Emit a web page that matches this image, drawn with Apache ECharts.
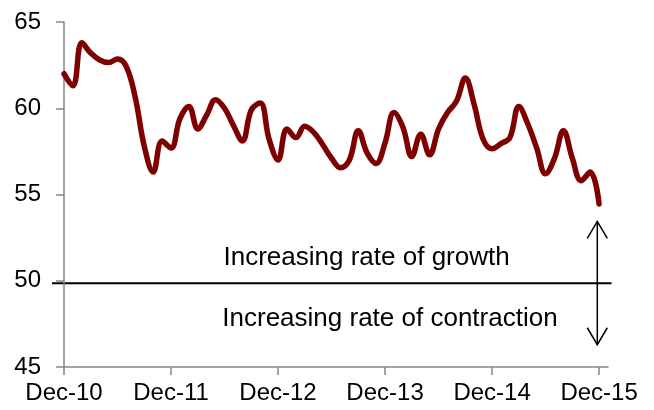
<!DOCTYPE html>
<html>
<head>
<meta charset="utf-8">
<script src="https://cdn.jsdelivr.net/npm/echarts@6/dist/echarts.min.js"></script>
<style>
html, body { margin: 0; padding: 0; background: #fff; }
#main { width: 654px; height: 410px; }
</style>
</head>
<body>
<div id="main"></div>
<script>
// monthly index, Dec-10 .. Dec-15
const monthNames = ['Jan', 'Feb', 'Mar', 'Apr', 'May', 'Jun', 'Jul', 'Aug', 'Sep', 'Oct', 'Nov', 'Dec']
const values = [
  62.0, 61.3, 63.8, 63.2, 62.8, 62.65, 62.85, 62.4, 60.6, 57.8,
  56.3, 58.1, 57.7, 59.4, 60.1, 58.8, 59.6, 60.5, 60.0, 59.0,
  58.1, 59.9, 60.3, 58.2, 57.0, 58.8, 58.3, 58.95, 58.6, 57.9,
  57.1, 56.55, 57.0, 58.7, 57.4, 56.8, 58.0, 59.75, 58.9, 57.2,
  58.5, 57.3, 58.8, 59.75, 60.4, 61.75, 60.2, 58.2, 57.65, 57.95,
  58.3, 60.1, 59.1, 57.7, 56.2, 57.1, 58.7, 57.1, 55.8, 56.3,
  54.45
]
const yMin = 45
const yMax = 65
const yStep = 5
const threshold = 49.85
const growthLabel = 'Increasing rate of growth'
const contractionLabel = 'Increasing rate of contraction'

// axis runs one month past the last point (to Jan-16)
const months = []
for (let k = 0; k < values.length + 1; k++) {
  const m = (11 + k) % 12
  const y = 10 + Math.floor((11 + k) / 12)
  months.push(monthNames[m] + '-' + y)
}

const font = '"Liberation Sans", Arial, sans-serif'
const axisGrey = '#868686'

let mychart = echarts.init(document.getElementById('main'))
mychart.setOption({
  animation: false,
  grid: { left: 64, right: 46, top: 22, bottom: 43 },
  xAxis: {
    type: 'category',
    data: months,
    boundaryGap: false,
    axisLine: { lineStyle: { color: axisGrey, width: 1.5 } },
    axisTick: { interval: 11, length: 8, lineStyle: { color: axisGrey, width: 1.5 } },
    axisLabel: { interval: 11, color: '#000', fontSize: 24, fontFamily: font, margin: 14 },
    splitLine: { show: false }
  },
  yAxis: {
    type: 'value',
    min: yMin,
    max: yMax,
    interval: yStep,
    axisLine: { show: true, lineStyle: { color: axisGrey, width: 1.5 } },
    axisTick: { show: true, length: 8, lineStyle: { color: axisGrey, width: 1.5 } },
    axisLabel: { color: '#000', fontSize: 24, fontFamily: font, margin: 23 },
    splitLine: { show: false }
  },
  series: [{
    type: 'line',
    data: values,
    smooth: 0.4,
    symbol: 'none',
    lineStyle: { color: '#7f0000', width: 5.5, cap: 'round', join: 'round' }
  }]
})

// annotation: threshold line, two captions and the double arrow
const x0 = mychart.convertToPixel({ xAxisIndex: 0 }, 0)
const x1 = mychart.convertToPixel({ xAxisIndex: 0 }, values.length)
const toX = u => x0 + (x1 - x0) * u / values.length
const toY = v => mychart.convertToPixel({ yAxisIndex: 0 }, v)

const ax = toX(59.8)
const aTop = toY(53.44)
const aBot = toY(46.29)
const head = 17, spread = 10

mychart.setOption({
  graphic: [
    {
      type: 'line',
      shape: { x1: toX(-1.35), y1: toY(threshold), x2: toX(61.4), y2: toY(threshold) },
      style: { stroke: '#000', lineWidth: 2 }
    },
    {
      type: 'text',
      x: toX(33.93), y: toY(51.3),
      style: { text: growthLabel, fill: '#000', font: '26px ' + font, textAlign: 'center', textVerticalAlign: 'middle' }
    },
    {
      type: 'text',
      x: toX(36.55), y: toY(47.8),
      style: { text: contractionLabel, fill: '#000', font: '26px ' + font, textAlign: 'center', textVerticalAlign: 'middle' }
    },
    {
      type: 'line',
      shape: { x1: ax, y1: aTop, x2: ax, y2: aBot },
      style: { stroke: '#000', lineWidth: 1.5 }
    },
    {
      type: 'polyline',
      shape: { points: [[ax - spread, aTop + head], [ax, aTop], [ax + spread, aTop + head]] },
      style: { stroke: '#000', lineWidth: 1.5, fill: null }
    },
    {
      type: 'polyline',
      shape: { points: [[ax - spread, aBot - head], [ax, aBot], [ax + spread, aBot - head]] },
      style: { stroke: '#000', lineWidth: 1.5, fill: null }
    }
  ]
})
</script>
</body>
</html>
